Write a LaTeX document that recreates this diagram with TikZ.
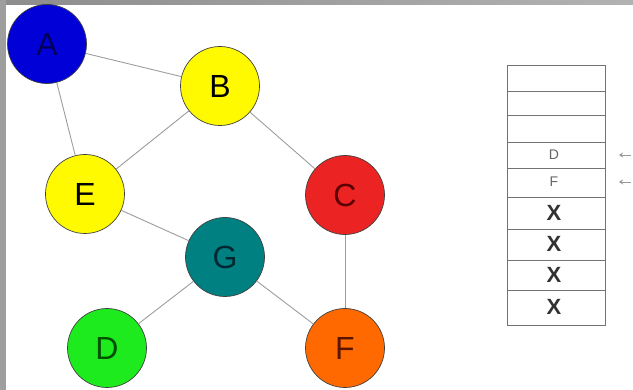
\documentclass[tikz,border=0pt]{standalone}
\usepackage{fontspec}
\setmainfont{Liberation Sans}
\usetikzlibrary{arrows.meta}
\begin{document}
\begin{tikzpicture}[x=1pt,y=-1pt,
  vert/.style={circle,minimum size=79pt,inner sep=0pt,draw=black!75,line width=0.7pt,font=\fontsize{32}{32}\selectfont},
  edge/.style={draw=black!38,line width=0.9pt},
  cell/.style={draw=black!55,line width=0.8pt},
  celltxt/.style={font=\fontsize{14}{14}\selectfont,text=black!60},
  xmark/.style={font=\bfseries\fontsize{22}{22}\selectfont,text=black!80},
  ptr/.style={draw=black!40,line width=0.8pt,-{Stealth[length=4pt,width=5pt]}}]
\useasboundingbox (0,0) rectangle (633,390);
\fill[white] (0,0) rectangle (633,390);
% gray frame
\shade[left color=black!45,right color=black!30] (0,0) rectangle (633,5);
\fill[black!38] (0,0) rectangle (6,390);
% vertices
\node[vert,fill={rgb,255:red,0;green,0;blue,215},text={rgb,255:red,0;green,0;blue,90}] (A) at (47,44) {A};
\node[vert,fill={rgb,255:red,255;green,250;blue,0}] (B) at (220,86) {B};
\node[vert,fill={rgb,255:red,255;green,250;blue,0}] (E) at (85,194) {E};
\node[vert,fill={rgb,255:red,235;green,35;blue,35},text={rgb,255:red,90;green,0;blue,0}] (C) at (345,195) {C};
\node[vert,fill={rgb,255:red,0;green,128;blue,128},text={rgb,255:red,0;green,40;blue,50}] (G) at (225,257) {G};
\node[vert,fill={rgb,255:red,30;green,235;blue,30},text={rgb,255:red,0;green,80;blue,0}] (D) at (107,348) {D};
\node[vert,fill={rgb,255:red,255;green,105;blue,0},text={rgb,255:red,90;green,20;blue,0}] (F) at (345,348) {F};
% edges
\path[edge] (A) -- (B);
\path[edge] (A) -- (E);
\path[edge] (B) -- (E);
\path[edge] (B) -- (C);
\path[edge] (E) -- (G);
\path[edge] (G) -- (D);
\path[edge] (G) -- (F);
\path[edge] (C) -- (F);
% stack
\draw[cell] (507,65) rectangle (605,325);
\foreach \yy in {91,115,142,168,197,229,260,290} \draw[cell] (507,\yy) -- (605,\yy);
\node[celltxt] (sD) at (554,155) {D};
\node[celltxt] (sF) at (554,182) {F};
\node[xmark] (x1) at (554,213) {X};
\node[xmark] (x2) at (554,244) {X};
\node[xmark] (x3) at (554,275) {X};
\node[xmark] (x4) at (554,307) {X};
\coordinate (p1s) at (631,155);
\coordinate (p1e) at (619,155);
\coordinate (p2s) at (631,182);
\coordinate (p2e) at (619,182);
\draw[ptr] (p1s) -- (p1e);
\draw[ptr] (p2s) -- (p2e);
\end{tikzpicture}
\end{document}
